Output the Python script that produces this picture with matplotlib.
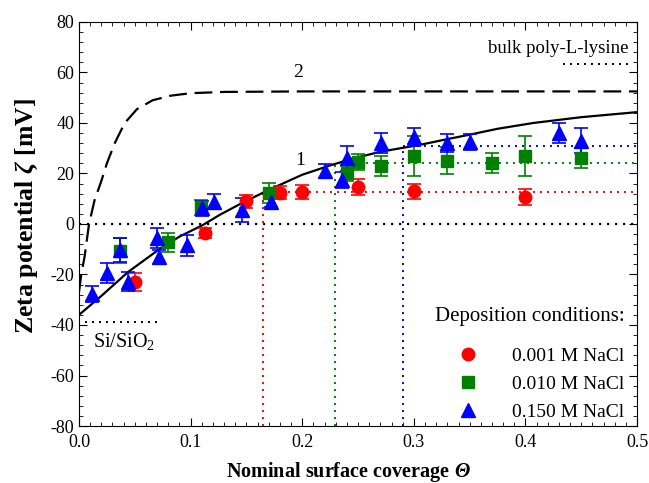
import numpy as np
import matplotlib
matplotlib.use('Agg')
import matplotlib.pyplot as plt
from matplotlib.lines import Line2D
from matplotlib.ticker import MultipleLocator, FormatStrFormatter

plt.rcParams['font.family'] = 'Liberation Serif'
plt.rcParams['axes.unicode_minus'] = False
plt.rcParams['mathtext.fontset'] = 'custom'
plt.rcParams['mathtext.rm'] = 'Liberation Serif:bold:italic'
plt.rcParams['mathtext.it'] = 'Liberation Serif:bold:italic'
plt.rcParams['mathtext.bf'] = 'Liberation Serif:bold'

# 0.001 M NaCl
x_red = [0.050, 0.113, 0.150, 0.180, 0.200, 0.250, 0.300, 0.400]
y_red = [-23, -3.6, 9, 12.3, 12.7, 14.7, 13, 10.7]
e_red = [3.5, 2, 2.5, 2.6, 2.8, 3.1, 3, 3]

# 0.010 M NaCl
x_green = [0.037, 0.080, 0.109, 0.170, 0.240, 0.250, 0.271, 0.300, 0.330, 0.370, 0.400, 0.450]
y_green = [-10.6, -7.2, 6.6, 12.2, 20, 24.6, 23, 27, 25, 24, 27, 26]
e_green = [5, 3.8, 3, 4, 3, 3.3, 3.8, 7.9, 5.3, 4, 7.9, 4]

# 0.150 M NaCl
x_blue = [0.012, 0.025, 0.037, 0.044, 0.070, 0.072, 0.097, 0.110, 0.121, 0.146, 0.172,
          0.220, 0.236, 0.240, 0.271, 0.300, 0.330, 0.350, 0.430, 0.450]
y_blue = [-27.7, -19.5, -10.3, -22.8, -5.6, -13, -8.5, 6.3, 8.8, 5.5, 8.7,
          21, 17.4, 26, 32, 34.5, 32, 32.5, 36, 33]
e_blue = [3, 4, 4.8, 3.8, 4, 2.8, 4, 3, 3, 4.6, 2,
          2.8, 3, 5, 4, 3.5, 3.5, 3.1, 3.9, 5]

# curve 1 (solid)
x_c1 = [0.0, 0.02, 0.044, 0.071, 0.09, 0.111, 0.126, 0.146, 0.17, 0.2, 0.225,
        0.246, 0.27, 0.288, 0.305, 0.33, 0.348, 0.375, 0.407, 0.45, 0.5]
y_c1 = [-36, -28.5, -19, -10.3, -5, -0.4, 3.6, 8.3, 13.5, 19.5, 23.2,
        26, 28.6, 30, 31.3, 33.6, 35.2, 37.7, 40, 42.3, 44.3]

# curve 2 (dashed)
x_c2 = [0.0, 0.002, 0.005, 0.009, 0.014, 0.02, 0.025, 0.032, 0.041, 0.052,
        0.066, 0.082, 0.1, 0.13, 0.2, 0.5]
y_c2 = [-27, -20, -13, 0, 9.5, 17, 24, 32, 40, 45.5,
        49, 50.8, 51.8, 52.3, 52.5, 52.5]

legend_labels = ['0.001 M NaCl', '0.010 M NaCl', '0.150 M NaCl']

fig = plt.figure(figsize=(6.49, 4.83), dpi=100)
ax = fig.add_axes([0.1217, 0.118, 0.86, 0.8365])

dot = (0, (1, 2.6))
ax.plot([0, 0.5], [0, 0], color='black', ls=dot, lw=1.6)
ax.plot([0.005, 0.071], [-39, -39], color='black', ls=dot, lw=1.4)
ax.plot([0.434, 0.494], [63.2, 63.2], color='black', ls=dot, lw=1.4)

ax.plot([0.165, 0.165, 0.5], [-80, 12.5, 12.5], color='red', ls=dot, lw=1.4)
ax.plot([0.229, 0.229, 0.5], [-80, 24, 24], color='green', ls=dot, lw=1.4)
ax.plot([0.290, 0.290, 0.5], [-80, 31, 31], color='blue', ls=dot, lw=1.4)

ax.plot(x_c1, y_c1, color='black', lw=1.6)
ax.plot(x_c2, y_c2, color='black', lw=1.6, ls=(0, (8, 3.5)))

ax.errorbar(x_red, y_red, yerr=e_red, fmt='o', color='red', ms=9,
            capsize=5, elinewidth=1.2, capthick=1.2)
ax.errorbar(x_green, y_green, yerr=e_green, fmt='s', color='green', ms=8,
            capsize=5, elinewidth=1.2, capthick=1.2)
ax.errorbar(x_blue, y_blue, yerr=e_blue, fmt='^', color='blue', ms=9.5,
            capsize=5, elinewidth=1.2, capthick=1.2)

ax.text(0.196, 60, '2', fontsize=14, ha='center', va='center')
ax.text(0.198, 25, '1', fontsize=14, ha='center', va='center')
ax.text(0.492, 69.5, 'bulk poly-L-lysine', fontsize=13.5, ha='right', va='center')
ax.text(0.0125, -46.5, r'Si/SiO$_\mathregular{2}$', fontsize=14.5, ha='left', va='center')

handles = [Line2D([], [], ls='', marker='o', color='red', ms=9),
           Line2D([], [], ls='', marker='s', color='green', ms=8),
           Line2D([], [], ls='', marker='^', color='blue', ms=9.5)]
leg = ax.legend(handles, legend_labels, title='Deposition conditions:', loc='lower right',
                bbox_to_anchor=(0.995, -0.012), frameon=False, fontsize=14, title_fontsize=15,
                handletextpad=1.3, borderaxespad=0.1, labelspacing=0.55, alignment='right')
leg._legend_box.sep = 15

ax.set_xlim(0, 0.5)
ax.set_ylim(-80, 80)
ax.xaxis.set_major_locator(MultipleLocator(0.1))
ax.xaxis.set_minor_locator(MultipleLocator(0.01))
ax.yaxis.set_major_locator(MultipleLocator(20))
ax.yaxis.set_minor_locator(MultipleLocator(4))
ax.tick_params(which='both', direction='in', top=True, right=True, labelsize=13)
ax.tick_params(which='major', length=6)
ax.tick_params(which='minor', length=3)
ax.tick_params(axis='x', pad=6)
ax.xaxis.set_major_formatter(FormatStrFormatter('%.1f'))

ax.set_xlabel(r'$\mathbf{Nominal\ surface\ coverage}\ \Theta$', fontsize=14.5)
ax.xaxis.set_label_coords(0.482, -0.083)
ax.set_ylabel(r'$\mathbf{Zeta\ potential}\ \zeta\ \mathbf{[mV]}$', fontsize=18.5)
ax.yaxis.set_label_coords(-0.07, 0.52)

fig.savefig('out.png', dpi=100)
